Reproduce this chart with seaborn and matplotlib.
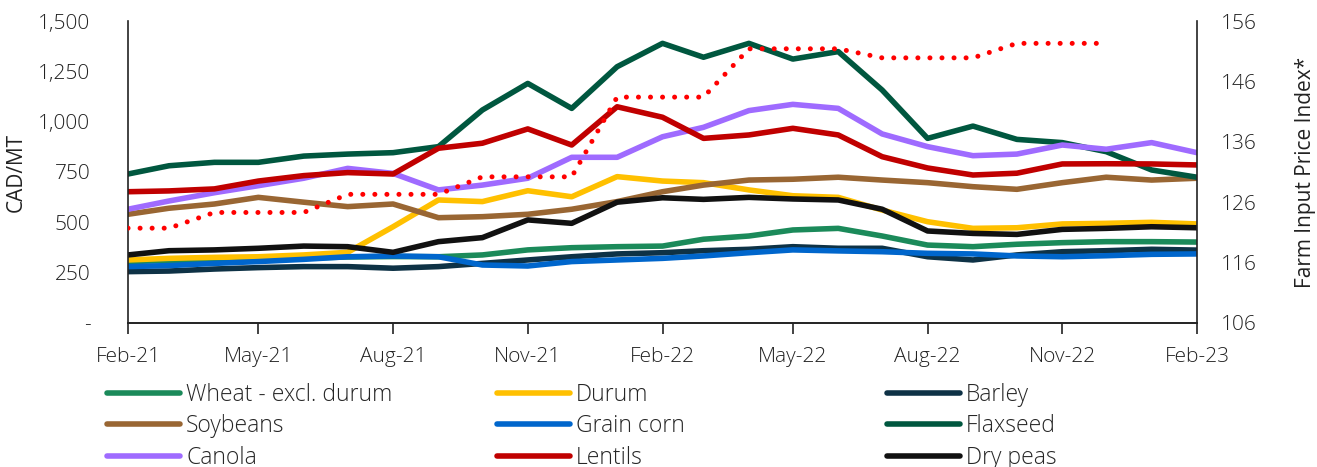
import pandas as pd
import numpy as np
import matplotlib
matplotlib.use('Agg')
import matplotlib.pyplot as plt
import matplotlib.ticker as mticker
import seaborn as sns

# Monthly prices (CAD/MT), Feb-21 to Feb-23
meses = pd.date_range('2021-02-01', periods=25, freq='MS')

wheat = [305, 310, 315, 318, 322, 328, 330, 329, 338, 363, 374, 379, 382,
         416, 432, 462, 470, 432, 387, 379, 391, 399, 404, 404, 402]
durum = [313, 321, 326, 329, 338, 351, 478, 611, 603, 657, 627, 727, 705,
         697, 661, 632, 624, 561, 503, 470, 473, 492, 495, 500, 492]
barley = [255, 258, 268, 275, 280, 280, 272, 280, 296, 313, 329, 343, 349,
          359, 366, 379, 371, 371, 329, 313, 338, 354, 359, 366, 362]
soybeans = [540, 570, 591, 624, 600, 578, 591, 523, 528, 540, 565, 603, 652,
            685, 710, 714, 724, 710, 697, 677, 664, 697, 724, 710, 719]
grain_corn = [280, 285, 296, 305, 316, 329, 333, 329, 288, 283, 305, 313, 321,
              333, 349, 363, 358, 354, 346, 343, 333, 329, 334, 341, 343]
flaxseed = [740, 781, 798, 798, 829, 839, 846, 876, 1058, 1190, 1066, 1273, 1389,
            1320, 1389, 1311, 1348, 1157, 917, 978, 912, 896, 851, 760, 724]
canola = [565, 606, 647, 682, 719, 768, 743, 661, 685, 719, 823, 823, 925,
          972, 1055, 1086, 1066, 939, 876, 831, 839, 884, 863, 896, 846]
lentils = [652, 656, 666, 705, 732, 747, 740, 868, 893, 964, 884, 1074, 1022,
           917, 934, 967, 934, 826, 770, 735, 744, 790, 791, 790, 785]
dry_peas = [338, 359, 363, 371, 382, 379, 351, 404, 424, 512, 495, 600, 622,
            614, 624, 616, 611, 565, 457, 445, 440, 465, 470, 478, 473]

# Farm Input Price Index (right axis), Feb-21 to Dec-22
fipi = [121.7, 121.7, 124.3, 124.3, 124.3, 127.3, 127.3, 127.3, 130.2, 130.2,
        130.2, 143.4, 143.4, 143.4, 151.4, 151.4, 151.4, 149.9, 149.9, 149.9,
        152.3, 152.3, 152.3]

nomes = ['Wheat - excl. durum', 'Durum', 'Barley', 'Soybeans', 'Grain corn',
         'Flaxseed', 'Canola', 'Lentils', 'Dry peas']
series = [wheat, durum, barley, soybeans, grain_corn, flaxseed, canola, lentils, dry_peas]
cores = ['#1b8a5a', '#ffc000', '#0e3246', '#996633', '#0066cc',
         '#00573f', '#9f6bff', '#c00000', '#111111']

df = pd.DataFrame({'Mes': np.tile(meses, len(nomes)),
                   'Preco': np.concatenate(series),
                   'Cultura': np.repeat(nomes, len(meses))})
df_idx = pd.DataFrame({'Mes': meses[:len(fipi)], 'Indice': fipi})

sns.set_style('white')
plt.rcParams['font.family'] = ['Open Sans', 'DejaVu Sans']
plt.rcParams['font.weight'] = 'light'
plt.rcParams['font.size'] = 15

fig = plt.figure(figsize=(13.17, 4.67), dpi=100)
ax = fig.add_axes([0.0972, 0.3084, 0.8117, 0.6466])

sns.lineplot(data=df, x='Mes', y='Preco', hue='Cultura', hue_order=nomes,
             palette=cores, linewidth=4, ax=ax, legend=False)

ax2 = ax.twinx()
sns.lineplot(data=df_idx, x='Mes', y='Indice', color='#ff0000', linewidth=3.6,
             linestyle=(0, (0.01, 2.4)), ax=ax2)
ax2.lines[0].set_dash_capstyle('round')

ax.set_xlim(meses[0], meses[-1])
ax.set_ylim(0, 1500)
ax2.set_ylim(106, 156)
ax.set_yticks(np.arange(0, 1501, 250))
ax2.set_yticks(np.arange(106, 157, 10))
ax.yaxis.set_major_formatter(mticker.FuncFormatter(lambda v, p: '-' if v == 0 else f'{v:,.0f}'))

ax.set_xticks(meses[::3])
ax.set_xticklabels([m.strftime('%b-%y') for m in meses[::3]])

for a in (ax, ax2):
    a.spines['top'].set_visible(False)
    for s in a.spines.values():
        s.set_color('#222222')
        s.set_linewidth(1.2)
ax.spines['right'].set_visible(False)
ax2.spines['left'].set_visible(False)
ax.tick_params(axis='x', direction='out', length=8, width=1.2, pad=9, colors='#222222', bottom=True)
ax.tick_params(axis='y', length=0, pad=27, colors='#222222')
ax2.tick_params(axis='y', length=0, pad=17, colors='#222222')

ax.set_xlabel('')
ax.set_ylabel('CAD/MT', fontsize=15, labelpad=8, color='#222222')
ax2.set_ylabel('Farm Input Price Index*', fontsize=15, labelpad=28, color='#222222')

# legend: three columns filled row by row
handles = [plt.Line2D([], [], color=c, linewidth=4, solid_capstyle='round') for c in cores]
xs = [107 / 1317, 497 / 1317, 887 / 1317]
for j in range(3):
    fig.legend(handles[j::3], nomes[j::3], loc='upper left',
               bbox_to_anchor=(xs[j], 1 - 383 / 467), frameon=False,
               handlelength=3.2, handletextpad=0.25, labelspacing=0.32,
               borderpad=0, borderaxespad=0, fontsize=16.5)

fig.savefig('out.png', dpi=100)
